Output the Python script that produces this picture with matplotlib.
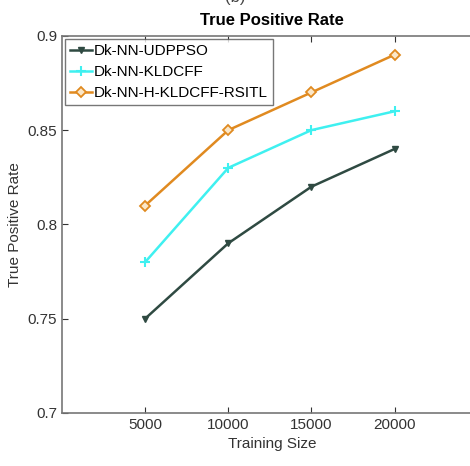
import matplotlib.pyplot as plt

plt.rcParams['font.family'] = ['Liberation Sans', 'DejaVu Sans']

training_size = [5000, 10000, 15000, 20000]
tpr_udppso = [0.75, 0.79, 0.82, 0.84]
tpr_kldcff = [0.78, 0.83, 0.85, 0.86]
tpr_rsitl = [0.81, 0.85, 0.87, 0.89]
labels = ['Dk-NN-UDPPSO', 'Dk-NN-KLDCFF', 'Dk-NN-H-KLDCFF-RSITL']

fig = plt.figure(figsize=(4.7, 4.66), dpi=100)
ax = fig.add_axes([0.132, 0.114, 0.895, 0.809])

ax.plot(training_size, tpr_udppso, color='#2f4a42', marker='v', markersize=5, lw=1.8, label=labels[0])
ax.plot(training_size, tpr_kldcff, color='#3ff0f0', marker='+', markersize=7, mew=1.5, lw=1.8, label=labels[1])
ax.plot(training_size, tpr_rsitl, color='#e08a20', marker='D', markersize=5.5, mfc='#fbe7c8', mew=1.3, lw=1.8, label=labels[2])

ax.set_xlim(0, 25300)
ax.set_ylim(0.7, 0.9)
ax.set_xticks(training_size)
ax.set_yticks([0.7, 0.75, 0.8, 0.85, 0.9])
ax.set_yticklabels(['0.7', '0.75', '0.8', '0.85', '0.9'])
ax.tick_params(direction='in', top=True, right=True, labelsize=11, colors='#333333', length=4)
for s in ax.spines.values():
    s.set_color('#777777')
    s.set_linewidth(1.2)

ax.set_xlabel('Training Size', fontsize=11, color='#333333')
ax.set_ylabel('True Positive Rate', fontsize=11, color='#333333', labelpad=4)
ax.set_title('True Positive Rate', fontsize=12, fontweight='bold', pad=8)
fig.text(0.5, 1.005, '(b)', ha='center', va='center', fontsize=12, color='#444444')

leg = ax.legend(loc='upper left', fontsize=11, frameon=True, fancybox=False,
                edgecolor='#555555', handlelength=1.4, handletextpad=0.1,
                borderpad=0.35, labelspacing=0.45, borderaxespad=0.2)
leg.get_frame().set_linewidth(1.0)

fig.savefig('out.png', dpi=100)
